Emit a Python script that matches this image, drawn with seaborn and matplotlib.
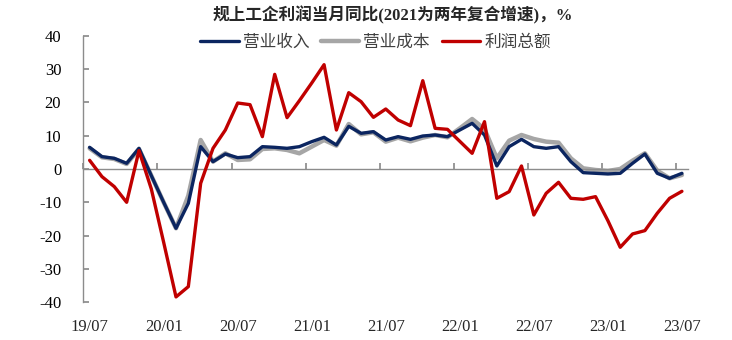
import matplotlib
matplotlib.use('Agg')
import matplotlib.pyplot as plt
import seaborn as sns
import numpy as np
import pandas as pd

# meses 2019/07 - 2023/07
months = pd.period_range('2019-07', '2023-07', freq='M').strftime('%y/%m')
tick_labels = ['19/07', '20/01', '20/07', '21/01', '21/07', '22/01', '22/07', '23/01', '23/07']

revenue = [6.5, 3.7, 3.2, 1.7, 6.2, -2.0, -10.0, -17.8, -10.3, 6.7,
           2.2, 4.5, 3.4, 3.7, 6.7, 6.5, 6.2, 6.7, 8.2, 9.5,
           7.2, 12.8, 10.7, 11.2, 8.7, 9.7, 8.9, 9.9, 10.2, 9.7,
           11.7, 13.7, 10.2, 0.9, 6.7, 8.9, 6.7, 6.2, 6.7, 2.2,
           -1.1, -1.3, -1.5, -1.3, 1.7, 4.5, -1.3, -2.8, -1.3]
cost = [6.2, 3.5, 3.0, 1.5, 6.0, -2.0, -10.0, -17.8, -8.0, 8.7,
        2.2, 4.7, 2.7, 2.9, 6.0, 6.2, 5.7, 4.7, 6.7, 8.7,
        7.0, 13.5, 10.4, 11.0, 8.2, 9.4, 8.3, 9.4, 10.2, 9.5,
        12.2, 15.0, 12.0, 3.2, 8.5, 10.2, 9.0, 8.2, 7.9, 3.2,
        0.2, -0.3, -0.6, 0.0, 2.5, 4.7, -0.5, -2.8, -1.8]
profit = [2.6, -2.3, -5.3, -10.0, 5.5, -6.0, -22.0, -38.4, -35.3, -4.3,
          6.2, 11.7, 19.8, 19.3, 9.7, 28.4, 15.4, 20.5, 25.8, 31.3,
          11.7, 22.9, 20.2, 15.5, 18.0, 14.7, 13.0, 26.5, 12.2, 11.9,
          8.3, 4.7, 14.2, -8.8, -6.8, 0.9, -13.8, -7.3, -4.0, -8.8,
          -9.1, -8.3, -15.5, -23.5, -19.5, -18.5, -13.3, -8.8, -6.7]

df = pd.DataFrame({'idx': np.arange(len(months)), 'month': months,
                   '营业收入': revenue, '营业成本': cost, '利润总额': profit})

sns.set_theme(style='white')
plt.rcParams['font.family'] = ['Liberation Serif', 'Noto Sans CJK SC']
plt.rcParams['axes.unicode_minus'] = False

fig = plt.figure(figsize=(7.32, 3.40), dpi=100)
ax = fig.add_axes([0.114, 0.111, 0.826, 0.784])

sns.lineplot(data=df, x='idx', y='营业成本', ax=ax, color='#A6A6A6', lw=3.2, label='营业成本', zorder=2)
sns.lineplot(data=df, x='idx', y='营业收入', ax=ax, color='#0B2560', lw=2.4, label='营业收入', zorder=3)
sns.lineplot(data=df, x='idx', y='利润总额', ax=ax, color='#C00000', lw=2.4, label='利润总额', zorder=4)

ax.set_xlim(-0.5, len(months) - 0.5)
ax.set_ylim(-40, 40)
ax.set_yticks(np.arange(-40, 41, 10))
ax.set_xlabel('')
ax.set_ylabel('')

# eje x en cero, etiquetas abajo
for s in ['top', 'right']:
    ax.spines[s].set_visible(False)
ax.spines['bottom'].set_position(('data', 0))
for s in ['left', 'bottom']:
    ax.spines[s].set_color('#8C8C8C')
    ax.spines[s].set_linewidth(1.0)
ax.set_xticks(np.arange(-0.5, len(months), 6))
ax.tick_params(axis='x', direction='in', length=4, color='#8C8C8C', labelbottom=False, bottom=True)
ax.tick_params(axis='y', direction='in', length=4, color='#8C8C8C', left=True,
               labelsize=12, pad=16, labelcolor='black')

sec = ax.secondary_xaxis(0.0)
sec.set_xticks(np.arange(0, len(months), 6), tick_labels)
sec.tick_params(length=0, labelsize=12, pad=12)
sec.spines['bottom'].set_visible(False)

h, l = ax.get_legend_handles_labels()
order = [l.index('营业收入'), l.index('营业成本'), l.index('利润总额')]
ax.legend([h[i] for i in order], [l[i] for i in order], loc='center',
          bbox_to_anchor=(0.483, 0.975), ncol=3, frameon=False,
          prop={'family': ['Noto Sans CJK SC'], 'size': 12},
          handlelength=2.3, handletextpad=0.25, columnspacing=0.7,
          labelcolor='#404040')

fig.text(0.537, 0.955, '规上工企利润当月同比(2021为两年复合增速)，%', ha='center', va='center',
         fontsize=12, fontweight='bold', family=['Liberation Serif', 'Noto Sans CJK SC'])

fig.savefig('out.png', dpi=100)
